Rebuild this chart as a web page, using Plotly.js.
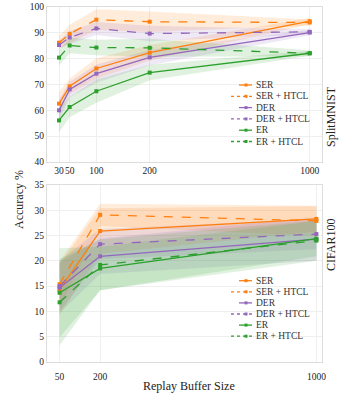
<!DOCTYPE html>
<html>
<head>
<meta charset="utf-8">
<script src="https://cdn.plot.ly/plotly-3.0.1.min.js"></script>
<style>
  html, body { margin: 0; padding: 0; background: #fff; }
  #chart { width: 353px; height: 409px; }
</style>
</head>
<body>
<div id="chart"></div>
<script>
// series names and colours
var names = ['SER', 'SER + HTCL', 'DER', 'DER + HTCL', 'ER', 'ER + HTCL'];
var colors = ['#ff7f0e', '#ff7f0e', '#9467bd', '#9467bd', '#2ca02c', '#2ca02c'];
var fills = ['rgba(255,127,14,0.15)', 'rgba(255,127,14,0.15)', 'rgba(148,103,189,0.15)',
             'rgba(148,103,189,0.15)', 'rgba(44,160,44,0.15)', 'rgba(44,160,44,0.15)'];
var dashed = [false, true, false, true, false, true];

// SplitMNIST: buffer 1000 is drawn at position 500 on the axis
var mnistBuffer = [30, 50, 100, 200, 500];
var mnistTickText = ['30', '50', '100', '200', '1000'];
var mnistSER      = [62.6, 69.3, 76.2, 82.3, 94.5];
var mnistSERHTCL  = [86.2, 89.6, 95.1, 94.3, 94.0];
var mnistDER      = [60.0, 68.1, 74.2, 80.5, 90.1];
var mnistDERHTCL  = [85.3, 88.2, 91.7, 89.7, 90.4];
var mnistER       = [56.1, 61.3, 67.4, 74.6, 82.1];
var mnistERHTCL   = [80.4, 85.1, 84.3, 84.2, 82.1];
var mnistSERStd     = [4.5, 3.0, 4.0, 3.0, 1.2];
var mnistSERHTCLStd = [2.5, 3.5, 4.0, 4.0, 1.2];
var mnistDERStd     = [4.0, 3.0, 3.5, 3.0, 1.0];
var mnistDERHTCLStd = [1.5, 2.5, 2.5, 3.0, 1.0];
var mnistERStd      = [4.5, 4.0, 4.5, 3.0, 1.0];
var mnistERHTCLStd  = [3.0, 3.0, 3.0, 3.5, 1.2];

// CIFAR100
var cifarBuffer = [50, 200, 1000];
var cifarSER      = [14.3, 25.9, 28.3];
var cifarSERHTCL  = [15.4, 29.1, 27.9];
var cifarDER      = [14.7, 20.9, 24.3];
var cifarDERHTCL  = [15.0, 23.3, 25.3];
var cifarER       = [13.7, 18.5, 24.4];
var cifarERHTCL   = [11.8, 19.2, 24.0];
var cifarSERStd     = [5.0, 4.5, 2.5];
var cifarSERHTCLStd = [4.5, 2.2, 3.0];
var cifarDERStd     = [5.0, 3.5, 4.3];
var cifarDERHTCLStd = [5.0, 3.0, 3.0];
var cifarERStd      = [8.8, 4.3, 3.5];
var cifarERHTCLStd  = [8.5, 5.0, 4.0];

var mnistMeans = [mnistSER, mnistSERHTCL, mnistDER, mnistDERHTCL, mnistER, mnistERHTCL];
var mnistStds = [mnistSERStd, mnistSERHTCLStd, mnistDERStd, mnistDERHTCLStd, mnistERStd, mnistERHTCLStd];
var cifarMeans = [cifarSER, cifarSERHTCL, cifarDER, cifarDERHTCL, cifarER, cifarERHTCL];
var cifarStds = [cifarSERStd, cifarSERHTCLStd, cifarDERStd, cifarDERHTCLStd, cifarERStd, cifarERHTCLStd];

var W = 353, H = 409;
var M = { l: 47, r: 31, t: 7, b: 47 };
function px(x) { return (x - M.l) / (W - M.l - M.r); }
function py(y) { return (H - M.b - y) / (H - M.t - M.b); }

function bandTrace(xs, mean, std, fill, xa, ya) {
    var upper = mean.map(function (m, i) { return m + std[i]; });
    var lower = mean.map(function (m, i) { return m - std[i]; });
    return {
        x: xs.concat(xs.slice().reverse()),
        y: upper.concat(lower.reverse()),
        fill: 'toself', fillcolor: fill, mode: 'lines', line: { width: 0 },
        hoverinfo: 'skip', showlegend: false, xaxis: xa, yaxis: ya
    };
}

function lineTrace(xs, mean, i, xa, ya) {
    return {
        x: xs, y: mean, mode: 'lines+markers', name: names[i],
        line: { color: colors[i], width: 1.3, dash: dashed[i] ? 'dash' : 'solid' },
        marker: { color: colors[i], size: 4, symbol: 'square' },
        showlegend: false, xaxis: xa, yaxis: ya
    };
}

var traces = [];
for (var i = 0; i < names.length; i++) {
    traces.push(bandTrace(mnistBuffer, mnistMeans[i], mnistStds[i], fills[i], 'x', 'y'));
    traces.push(bandTrace(cifarBuffer, cifarMeans[i], cifarStds[i], fills[i], 'x2', 'y2'));
}
for (var j = 0; j < names.length; j++) {
    traces.push(lineTrace(mnistBuffer, mnistMeans[j], j, 'x', 'y'));
    traces.push(lineTrace(cifarBuffer, cifarMeans[j], j, 'x2', 'y2'));
}

// hand-made compact legends
var shapes = [];
var annotations = [];
function addLegend(top, step) {
    for (var k = 0; k < names.length; k++) {
        var yy = top + k * step;
        shapes.push({
            type: 'line', xref: 'paper', yref: 'paper',
            x0: px(dashed[k] ? 231 : 239), x1: px(252), y0: py(yy), y1: py(yy),
            line: { color: colors[k], width: 1.3, dash: dashed[k] ? 'dot' : 'solid' }
        });
        shapes.push({
            type: 'rect', xref: 'paper', yref: 'paper',
            x0: px(244.5), x1: px(247.5), y0: py(yy - 1.5), y1: py(yy + 1.5),
            fillcolor: colors[k], line: { width: 0 }
        });
        annotations.push({
            text: names[k], xref: 'paper', yref: 'paper', x: px(254), y: py(yy),
            xanchor: 'left', yanchor: 'middle', showarrow: false,
            font: { family: 'Liberation Serif', size: 9.5, color: '#333' }
        });
    }
}
addLegend(85, 11.3);
addLegend(280.7, 11.1);

var serif = { family: 'Liberation Serif', size: 12, color: '#222' };
annotations.push({ text: 'SplitMNIST', xref: 'paper', yref: 'paper', x: px(340), y: py(84.5),
    textangle: -90, showarrow: false, font: serif });
annotations.push({ text: 'CIFAR100', xref: 'paper', yref: 'paper', x: px(340), y: py(273),
    textangle: -90, showarrow: false, font: serif });
annotations.push({ text: 'Accuracy %', xref: 'paper', yref: 'paper', x: px(10), y: py(200),
    textangle: -90, showarrow: false, font: serif });
annotations.push({ text: 'Replay Buffer Size', xref: 'paper', yref: 'paper', x: px(189), y: py(395),
    showarrow: false, font: serif });

var tickFont = { family: 'Liberation Serif', size: 9.5, color: '#222' };
var axisBase = {
    showgrid: true, gridcolor: '#efefef', gridwidth: 1, zeroline: false,
    showline: true, linecolor: '#dddddd', linewidth: 1, mirror: true,
    ticks: '', tickfont: tickFont, tickangle: 0
};

var layout = {
    width: W, height: H,
    margin: M,
    paper_bgcolor: '#fff', plot_bgcolor: '#fff',
    showlegend: false,
    xaxis: Object.assign({}, axisBase, {
        domain: [0, 1], anchor: 'y', range: [7.5, 523],
        tickmode: 'array', tickvals: mnistBuffer, ticktext: mnistTickText
    }),
    yaxis: Object.assign({}, axisBase, {
        domain: [py(162), 1], anchor: 'x', range: [40, 100], dtick: 10
    }),
    xaxis2: Object.assign({}, axisBase, {
        domain: [0, 1], anchor: 'y2', range: [3.5, 1020.7],
        tickmode: 'array', tickvals: cifarBuffer, ticktext: ['50', '200', '1000'],
        ticklabelstandoff: 6
    }),
    yaxis2: Object.assign({}, axisBase, {
        domain: [0, py(185)], anchor: 'x2', range: [0, 35], dtick: 5
    }),
    shapes: shapes,
    annotations: annotations
};

Plotly.newPlot('chart', traces, layout, { displayModeBar: false, staticPlot: true });
</script>
</body>
</html>
